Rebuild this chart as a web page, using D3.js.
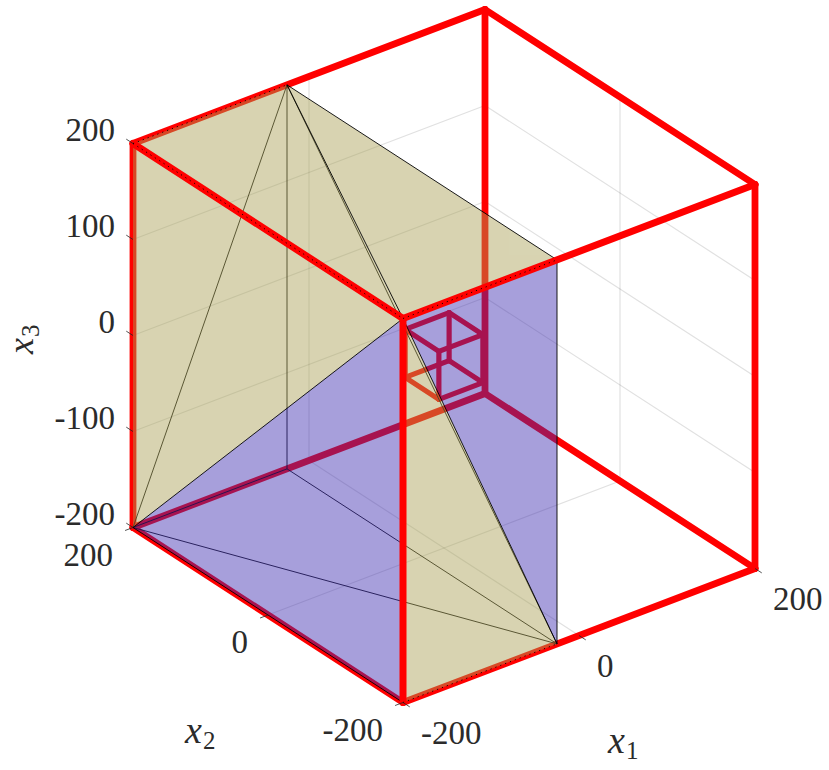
<!DOCTYPE html>
<html><head><meta charset="utf-8">
<script src="https://cdnjs.cloudflare.com/ajax/libs/d3/7.8.5/d3.min.js"></script>
<style>html,body{margin:0;padding:0;background:#fff}svg{display:block}
text{font-family:"Liberation Serif",serif;fill:#2b2b2b}</style></head>
<body><div id="c"></div>
<script>
// Data ------------------------------------------------------------
const x1Ticks = [-200, 0, 200];
const x2Ticks = [-200, 0, 200];
const x3Ticks = [-200, -100, 0, 100, 200];

// large cube: corner coordinates
const bigLo = -200, bigHi = 200;
// small cube half size
const smallLo = -25, smallHi = 25;
// box patch: x1 limits
const boxLo = -200, boxHi = -25;

const boxVerts = {
  A:[boxLo,bigHi,bigHi], B:[boxHi,bigHi,bigHi], P:[boxLo,bigLo,bigHi], Q:[boxHi,bigLo,bigHi],
  S:[boxLo,bigLo,bigLo], R:[boxHi,bigLo,bigLo], T:[boxLo,bigHi,bigLo], U:[boxHi,bigHi,bigLo]
};
const yellowTriangles = [["A","B","P"],["B","P","Q"],["A","P","T"],["P","R","S"]];
const blueTriangles   = [["P","S","T"],["P","Q","R"]];
const hiddenEdges = [["T","B"],["B","U"],["U","R"],["T","R"],["U","T"],["B","R"]];
const frontEdges  = [["B","Q"],["Q","R"],["P","T"],["P","R"],["B","P"],["S","T"]];
const dottedEdges = [["A","B"],["S","R"],["A","P"],["P","Q"]];

// Projection through linear scales -------------------------------
const W = 829, H = 770;
const px1 = d3.scaleLinear().domain([-200,200]).range([-176,176]);
const py1 = d3.scaleLinear().domain([-200,200]).range([67,-67]);
const px2 = d3.scaleLinear().domain([-200,200]).range([135,-135]);
const py2 = d3.scaleLinear().domain([-200,200]).range([87.5,-87.5]);
const py3 = d3.scaleLinear().domain([-200,200]).range([192,-192]);
const cx = 444, cy = 356;
const proj = ([a,b,c]) => [cx+px1(a)+px2(b), cy+py1(a)+py2(b)+py3(c)];
const line3 = d3.line().x(d=>proj(d)[0]).y(d=>proj(d)[1]);

const svg = d3.select("#c").append("svg").attr("width",W).attr("height",H);

function cubeEdges(lo,hi){
  const out=[];
  [lo,hi].forEach(u=>[lo,hi].forEach(v=>{
    out.push({k:"1",a:[lo,u,v],b:[hi,u,v],u,v});
    out.push({k:"2",a:[u,lo,v],b:[u,hi,v],u,v});
    out.push({k:"3",a:[u,v,lo],b:[u,v,hi],u,v});
  }));
  return out;
}
const drawSeg = (g,segs,color,width,extra={}) => {
  const s = g.selectAll(null).data(segs).join("path")
    .attr("d",d=>line3(d)).attr("fill","none").attr("stroke",color).attr("stroke-width",width);
  Object.entries(extra).forEach(([k,v])=>s.attr(k,v));
  return s;
};

// Grid -------------------------------------------------------------
const grid = svg.append("g");
const gridSegs = [];
x1Ticks.forEach(t=>{
  gridSegs.push([[t,bigLo,bigLo],[t,bigHi,bigLo]]);
  gridSegs.push([[t,bigHi,bigLo],[t,bigHi,bigHi]]);
});
x2Ticks.forEach(t=>{
  gridSegs.push([[bigLo,t,bigLo],[bigHi,t,bigLo]]);
  gridSegs.push([[bigHi,t,bigLo],[bigHi,t,bigHi]]);
});
x3Ticks.forEach(t=>{
  gridSegs.push([[bigLo,bigHi,t],[bigHi,bigHi,t]]);
  gridSegs.push([[bigHi,bigHi,t],[bigHi,bigLo,t]]);
});
drawSeg(grid,gridSegs,"#000",1.2,{"stroke-opacity":0.12});

// Edges of the large cube: three meeting at the nearest corner go in front
const allBig = cubeEdges(bigLo,bigHi);
const isFront = e => {
  const near = [bigLo,bigLo,bigHi];
  return [e.a,e.b].some(p=>p[0]===near[0]&&p[1]===near[1]&&p[2]===near[2]);
};
const red = "#ff0000";
const back = svg.append("g");
drawSeg(back,cubeEdges(smallLo,smallHi).map(e=>[e.a,e.b]),red,5.2,{"stroke-linecap":"round"});
drawSeg(back,allBig.filter(e=>!isFront(e)).map(e=>[e.a,e.b]),red,6.8,{"stroke-linecap":"round"});

const toPts = names => names.map(n=>boxVerts[n]);
drawSeg(svg.append("g"),hiddenEdges.map(toPts),"#000",0.9);

// Patches ----------------------------------------------------------
const polyPath = t => line3(toPts(t))+"Z";
const patches = svg.append("g").attr("opacity",0.45);
patches.selectAll(".y").data(yellowTriangles).join("path").attr("d",polyPath).attr("fill","rgb(169,160,84)");
patches.selectAll(".b").data(blueTriangles).join("path").attr("d",polyPath).attr("fill","rgb(62,44,177)");

drawSeg(svg.append("g"),frontEdges.map(toPts),"#000",0.9);

// Front edges of the large cube
drawSeg(svg.append("g"),allBig.filter(isFront).map(e=>[e.a,e.b]),red,7,{"stroke-linecap":"round"});
drawSeg(svg.append("g"),dottedEdges.map(toPts),"#000",0.9,{"stroke-dasharray":"1.2 4"});

// Ticks ------------------------------------------------------------
const tickG = svg.append("g");
const tickSegs = [];
x1Ticks.forEach(t=>tickSegs.push([[t,bigLo,bigLo],[t,bigLo-10,bigLo]]));
x2Ticks.forEach(t=>tickSegs.push([[bigLo,t,bigLo],[bigLo-9,t,bigLo]]));
x3Ticks.forEach(t=>tickSegs.push([[bigLo,bigHi,t],[bigLo,bigHi+10,t]]));
drawSeg(tickG,tickSegs,"#262626",0.8);

// Tick labels ------------------------------------------------------
const fs = 33;
const lab = (arr,pt,dx,dy,anchor) => svg.append("g").selectAll(null).data(arr).join("text")
  .attr("x",d=>proj(pt(d))[0]+dx).attr("y",d=>proj(pt(d))[1]+dy)
  .attr("text-anchor",anchor).attr("font-size",fs).text(d=>d);
lab(x3Ticks,t=>[bigLo,bigHi,t],-18,-3,"end");
lab(x2Ticks,t=>[bigLo,t,bigLo],-20,38,"end");
lab(x1Ticks,t=>[t,bigLo,bigLo],18,41,"start");

// Axis labels ------------------------------------------------------
function axisLabel(x,y,sub,rot,size){
  const t = svg.append("text").attr("transform",`translate(${x},${y})`+(rot?` rotate(${rot})`:""));
  t.append("tspan").attr("font-style","italic").attr("font-size",size).text("x");
  t.append("tspan").attr("font-size",25).attr("dy",6).attr("dx",1).text(sub);
}
axisLabel(608,753,"1",0,38);
axisLabel(185,743,"2",0,38);
axisLabel(33,354,"3",-90,36);
</script></body></html>
